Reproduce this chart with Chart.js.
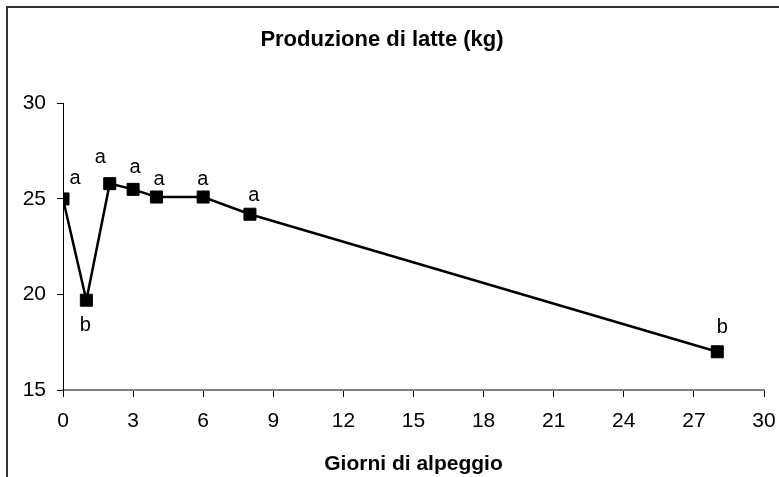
<!DOCTYPE html>
<html>
<head>
<meta charset="utf-8">
<script src="https://cdn.jsdelivr.net/npm/chart.js@4.4.1/dist/chart.umd.min.js"></script>
<style>
  html, body { margin: 0; padding: 0; background: #fff; }
  #wrap { position: relative; width: 779px; height: 477px; overflow: hidden; }
  #frame { position: absolute; left: 6px; top: 6px; width: 800px; height: 500px;
           border-left: 2px solid #333; border-top: 2px solid #333; box-sizing: border-box; }
  canvas { position: absolute; left: 0; top: 0; }
</style>
</head>
<body>
<div id="wrap">
  <div id="frame"></div>
  <canvas id="c" width="779" height="477"></canvas>
</div>
<script>
const days = [0, 1, 2, 3, 4, 6, 8, 28];
const milkKg = [25.0, 19.7, 25.8, 25.5, 25.1, 25.1, 24.2, 17.0];
const letters = ['a', 'b', 'a', 'a', 'a', 'a', 'a', 'b'];
const xTicks = [0, 3, 6, 9, 12, 15, 18, 21, 24, 27, 30];
const yTicks = [15, 20, 25, 30];

const FONT = "'Liberation Sans', Arial, sans-serif";

const letterPlugin = {
  id: 'letters',
  afterDatasetsDraw(chart, args, opts) {
    const ctx = chart.ctx;
    const meta = chart.getDatasetMeta(0);
    ctx.save();
    ctx.fillStyle = '#000';
    ctx.font = opts.size + 'px ' + FONT;
    ctx.textAlign = 'center';
    ctx.textBaseline = 'middle';
    meta.data.forEach((pt, i) => {
      const off = opts.offsets[i];
      ctx.fillText(letters[i], pt.x + off[0], pt.y + off[1]);
    });
    ctx.restore();
  }
};

new Chart(document.getElementById('c'), {
  type: 'scatter',
  data: {
    datasets: [{
      data: days.map((d, i) => ({ x: d, y: milkKg[i] })),
      showLine: true,
      borderColor: '#000',
      borderWidth: 2.5,
      pointStyle: 'rect',
      pointRadius: 8.5,
      pointBackgroundColor: '#000',
      pointBorderColor: '#000',
      pointBorderWidth: 1,
      tension: 0
    }]
  },
  options: {
    responsive: false,
    animation: false,
    events: [],
    layout: { padding: { left: 0, right: 15, top: 0, bottom: 0 } },
    plugins: {
      legend: { display: false },
      tooltip: { enabled: false },
      title: {
        display: true,
        text: 'Produzione di latte (kg)',
        color: '#000',
        font: { family: FONT, size: 22, weight: 'bold' },
        padding: { top: 27, bottom: 50 }
      },
      letters: {
        size: 20,
        offsets: [[12, -20], [-1, 25], [-9.5, -26], [2, -22], [2.5, -17.5], [-0.5, -17.5], [4, -19], [5, -24]]
      }
    },
    scales: {
      x: {
        type: 'linear',
        min: 0, max: 30,
        afterBuildTicks: s => { s.ticks = xTicks.map(v => ({ value: v })); },
        afterFit: s => { s.height = 87; s.paddingLeft = 0; s.paddingRight = 0; },
        ticks: { color: '#000', font: { family: FONT, size: 21 }, padding: 12, maxRotation: 0 },
        grid: { display: true, drawOnChartArea: false, drawTicks: true, tickLength: 7, tickColor: '#000', color: '#000' },
        border: { display: true, color: '#808080', width: 2 },
        title: {
          display: true,
          text: 'Giorni di alpeggio',
          color: '#000',
          font: { family: FONT, size: 21, weight: 'bold' },
          padding: { top: 4, bottom: 0 }
        }
      },
      y: {
        type: 'linear',
        min: 15, max: 30,
        afterBuildTicks: s => { s.ticks = yTicks.map(v => ({ value: v })); },
        afterFit: s => { s.width = 63; s.paddingTop = 0; s.paddingBottom = 0; },
        ticks: { color: '#000', font: { family: FONT, size: 21 }, padding: 11 },
        grid: { display: true, drawOnChartArea: false, drawTicks: true, tickLength: 6, tickColor: '#000', color: '#000' },
        border: { display: true, color: '#000', width: 1 }
      }
    }
  },
  plugins: [letterPlugin]
});
</script>
</body>
</html>
